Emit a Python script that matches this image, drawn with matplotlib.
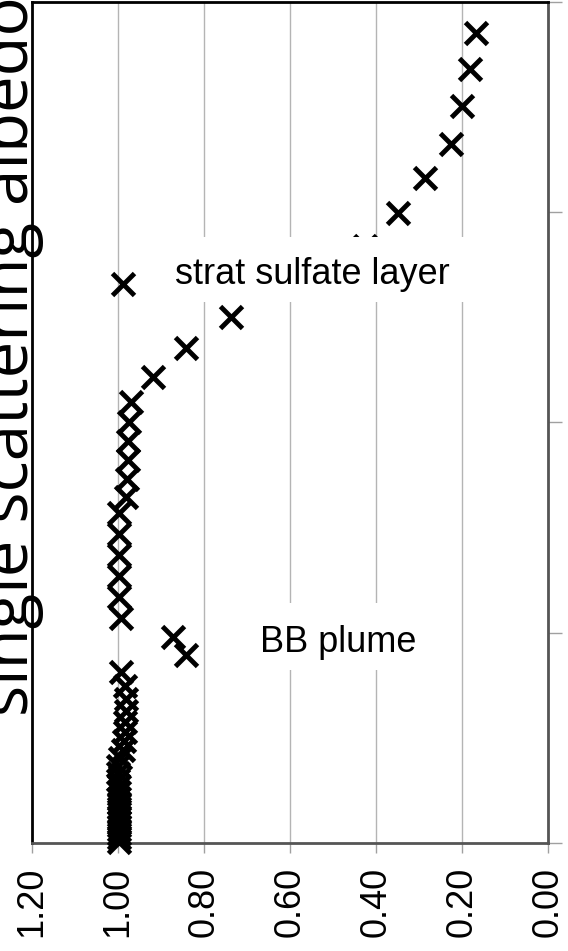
import numpy as np
import matplotlib.pyplot as plt
from matplotlib.patches import Rectangle

# single scattering albedo (x) against altitude in km (y)
albedo = [0.167, 0.181, 0.200, 0.226, 0.286, 0.349, 0.425, 0.988, 0.737, 0.842,
          0.919, 0.970, 0.974, 0.977, 0.977, 0.979, 0.981, 0.998, 0.998, 0.998,
          0.998, 0.998, 0.993, 0.872, 0.842, 0.993, 0.984, 0.981, 0.981, 0.984,
          0.984, 0.986, 0.988, 0.995, 1.000, 1.000, 1.000, 0.998, 0.998, 0.998,
          0.998, 0.998, 0.998, 0.998, 0.998, 0.998, 0.998, 0.998, 0.998, 0.998]
altitude = [19.26, 18.41, 17.53, 16.63, 15.82, 14.99, 14.20, 13.30, 12.52, 11.78,
            11.09, 10.48, 10.02, 9.55, 9.10, 8.65, 8.22, 7.84, 7.34, 6.84,
            6.34, 5.84, 5.34, 4.89, 4.47, 4.06, 3.73, 3.42, 3.14, 2.87,
            2.64, 2.42, 2.21, 2.02, 1.83, 1.66, 1.50, 1.35, 1.21, 1.07,
            0.95, 0.83, 0.71, 0.59, 0.50, 0.40, 0.31, 0.21, 0.12, 0.02]

x_ticks = [1.2, 1.0, 0.8, 0.6, 0.4, 0.2, 0.0]
x_tick_labels = ["1.20", "1.00", "0.80", "0.60", "0.40", "0.20", "0.00"]
y_ticks = [0, 5, 10, 15, 20]

plt.rcParams['font.family'] = ['Liberation Sans', 'DejaVu Sans']

W, H = 568, 951
fig = plt.figure(figsize=(W / 100, H / 100), dpi=100)
ax = fig.add_axes([32 / W, 1 - 843 / H, 516 / W, 841 / H])

ax.plot(albedo, altitude, linestyle='none', marker='x', color='black',
        markersize=16, markeredgewidth=3.5, zorder=3, clip_on=False)

ax.set_xlim(1.2, 0.0)
ax.set_ylim(0, 20)

# x axis: rotated labels, vertical grid
ax.set_xticks(x_ticks)
ax.set_xticklabels(x_tick_labels, rotation=90, fontsize=26)
ax.tick_params(axis='x', direction='out', length=7, width=1, color='#a0a0a0', pad=10)
ax.grid(axis='x', color='#b4b4b4', linewidth=1)
ax.set_axisbelow(True)

# y axis on the right, ticks only
ax.yaxis.tick_right()
ax.set_yticks(y_ticks)
ax.tick_params(axis='y', direction='out', length=10, width=1, color='#a0a0a0',
               labelright=False)

for side in ['left', 'top']:
    ax.spines[side].set_color('black')
    ax.spines[side].set_linewidth(2)
for side in ['bottom', 'right']:
    ax.spines[side].set_color('#555555')
    ax.spines[side].set_linewidth(2)

# text boxes covering the grid
ax.add_patch(Rectangle((0.238, 0.643), 0.611, 0.077, transform=ax.transAxes,
                       facecolor='white', edgecolor='none', zorder=4))
ax.text(0.543, 0.676, "strat sulfate layer", transform=ax.transAxes,
        ha='center', va='center', fontsize=26, zorder=5)
ax.add_patch(Rectangle((0.345, 0.2055), 0.475, 0.0795, transform=ax.transAxes,
                       facecolor='white', edgecolor='none', zorder=4))
ax.text(0.593, 0.239, "BB plume", transform=ax.transAxes,
        ha='center', va='center', fontsize=26, zorder=5)

# axis title, partly cut by the left edge as in the source
fig.text(44 / W, 1 - 356 / H, "single scattering albedo", rotation=90,
         ha='right', va='center', fontsize=47, family=['Open Sans', 'DejaVu Sans'])

plt.savefig('out.png', dpi=100)
